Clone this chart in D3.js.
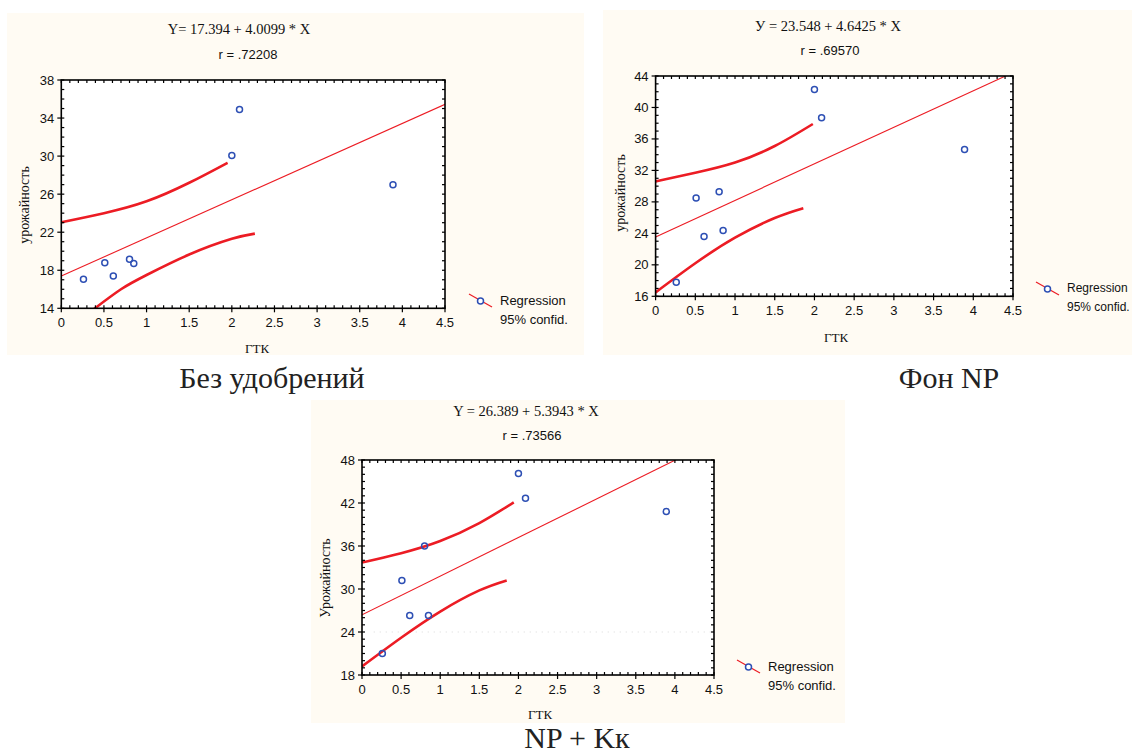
<!DOCTYPE html>
<html>
<head>
<meta charset="utf-8">
<script src="https://cdn.jsdelivr.net/npm/d3@7"></script>
<style>
  body { margin: 0; background: #fff; }
  text { fill: #111; }
</style>
</head>
<body>
<div id="chart"></div>
<script>
const ancho = 1132
const alto = 753

// ГТК (одинаковый для трёх графиков)
const gtk = [0.26, 0.51, 0.61, 0.8, 0.85, 2.0, 2.09, 3.89]

// урожайность по вариантам
const yieldBez = [17.05, 18.8, 17.4, 19.15, 18.7, 30.05, 34.9, 27.0]
const yieldNP = [17.8, 28.5, 23.6, 29.3, 24.35, 42.3, 38.7, 34.65]
const yieldNPK = [21.0, 31.2, 26.3, 36.0, 26.3, 46.1, 42.65, 40.8]

// коэффициенты регрессии  [a, b]
const regBez = [17.394, 4.0099]
const regNP = [23.548, 4.6425]
const regNPK = [26.389, 5.3943]

// 95% доверительные полосы
const bandBezUpX = [0, 0.5, 1.0, 1.5, 1.95]
const bandBezUpY = [23.05, 24.0, 25.25, 27.2, 29.3]
const bandBezLoX = [0.38, 0.7, 1.0, 1.5, 2.0, 2.27]
const bandBezLoY = [13.9, 16.0, 17.5, 19.65, 21.3, 21.85]

const bandNPUpX = [0, 0.5, 1.0, 1.5, 1.98]
const bandNPUpY = [30.6, 31.7, 33.0, 35.1, 37.9]
const bandNPLoX = [0, 0.5, 1.0, 1.5, 1.86]
const bandNPLoY = [16.5, 20.2, 23.45, 25.95, 27.2]

const bandNPKUpX = [0, 0.5, 1.0, 1.5, 1.94]
const bandNPKUpY = [33.7, 35.0, 36.7, 39.2, 42.1]
const bandNPKLoX = [0, 0.5, 1.0, 1.5, 1.85]
const bandNPKLoY = [19.2, 23.2, 26.85, 29.8, 31.2]

const xTicks = [0, 0.5, 1, 1.5, 2, 2.5, 3, 3.5, 4, 4.5]

const rojo = "#ec1c24"
const azul = "#2d4fb4"
const crema = "#fffbf3"
const serif = "'Liberation Serif', 'Times New Roman', serif"
const sans = "'Liberation Sans', Arial, sans-serif"

const svg = d3.select("#chart").append("svg")
    .attr("width", ancho)
    .attr("height", alto)

const paneles = [
  {
    id: "p1", bg: [7, 13, 584, 355],
    plot: {l: 61.3, r: 445, t: 80, b: 308.3},
    yDom: [14, 38], yStep: 4,
    yv: yieldBez, reg: regBez,
    up: [bandBezUpX, bandBezUpY], lo: [bandBezLoX, bandBezLoY],
    titulo: "Y= 17.394 + 4.0099 * X", tit: [239, 29], rtxt: "r = .72208", rpos: [248, 54],
    ylab: "урожайность", ylp: [24, 205], xlp: [257, 348],
    leg: [469, 301], legFs: 13, caption: "Без удобрений", cap: [272, 388]
  },
  {
    id: "p2", bg: [603, 10, 1132, 355],
    plot: {l: 655.6, r: 1013, t: 76, b: 296.3},
    yDom: [16, 44], yStep: 4,
    yv: yieldNP, reg: regNP,
    up: [bandNPUpX, bandNPUpY], lo: [bandNPLoX, bandNPLoY],
    titulo: "У = 23.548 + 4.6425 * X", tit: [828, 26], rtxt: "r = .69570", rpos: [830, 50],
    ylab: "урожайность", ylp: [620, 193], xlp: [836, 337],
    leg: [1036, 289], legFs: 12, caption: "Фон NP", cap: [949, 388]
  },
  {
    id: "p3", bg: [311, 400, 845, 723],
    plot: {l: 362, r: 714, t: 460, b: 675},
    yDom: [18, 48], yStep: 6,
    yv: yieldNPK, reg: regNPK,
    up: [bandNPKUpX, bandNPKUpY], lo: [bandNPKLoX, bandNPKLoY],
    guia: 24,
    titulo: "Y = 26.389 + 5.3943 * X", tit: [526, 411], rtxt: "r = .73566", rpos: [532, 435],
    ylab: "Урожайность", ylp: [325, 578], xlp: [540, 714],
    leg: [737, 667], legFs: 13, caption: "NP + Kк", cap: [577, 748]
  }
]

paneles.forEach(p => {
  const g = svg.append("g").attr("id", p.id)
  const bg = p.bg
  g.append("rect")
      .attr("x", bg[0]).attr("y", bg[1])
      .attr("width", bg[2] - bg[0]).attr("height", bg[3] - bg[1])
      .attr("fill", crema)

  const x = d3.scaleLinear().domain([0, 4.5]).range([p.plot.l, p.plot.r])
  const y = d3.scaleLinear().domain(p.yDom).range([p.plot.b, p.plot.t])

  g.append("rect")
      .attr("x", p.plot.l).attr("y", p.plot.t)
      .attr("width", p.plot.r - p.plot.l).attr("height", p.plot.b - p.plot.t)
      .attr("fill", "#fff")

  g.append("clipPath").attr("id", "clip-" + p.id)
    .append("rect")
      .attr("x", p.plot.l).attr("y", p.plot.t)
      .attr("width", p.plot.r - p.plot.l).attr("height", p.plot.b - p.plot.t)

  const interior = g.append("g").attr("clip-path", `url(#clip-${p.id})`)

  // línea punteada tenue (solo en el tercer gráfico)
  if (p.guia !== undefined) {
    interior.append("line")
        .attr("x1", x(0.15)).attr("x2", x(4.5))
        .attr("y1", y(p.guia)).attr("y2", y(p.guia))
        .attr("stroke", "#d8d8d8").attr("stroke-width", 1)
        .attr("stroke-dasharray", "1,5")
  }

  // regresión
  interior.append("line")
      .attr("x1", x(0)).attr("y1", y(p.reg[0]))
      .attr("x2", x(4.5)).attr("y2", y(p.reg[0] + p.reg[1] * 4.5))
      .attr("stroke", rojo).attr("stroke-width", 1.1)

  const curva = d3.line()
      .x(d => x(d[0]))
      .y(d => y(d[1]))
      .curve(d3.curveNatural)

  ;[p.up, p.lo].forEach(b => {
    interior.append("path")
        .attr("d", curva(d3.zip(b[0], b[1])))
        .attr("fill", "none")
        .attr("stroke", rojo)
        .attr("stroke-width", 2.6)
        .attr("stroke-linecap", "butt")
  })

  // puntos
  g.append("g").selectAll("circle")
    .data(d3.zip(gtk, p.yv))
    .join("circle")
      .attr("cx", d => x(d[0]))
      .attr("cy", d => y(d[1]))
      .attr("r", 3)
      .attr("fill", "none")
      .attr("stroke", azul)
      .attr("stroke-width", 1.5)

  // ticks del marco
  const ticks = g.append("g").attr("stroke", "#000").attr("stroke-width", 1.2)
  const xMinor = d3.range(0, 45.01, 1).map(v => v / 10)
  xMinor.forEach(v => {
    const mayor = Math.abs(v * 2 - Math.round(v * 2)) < 1e-6
    ticks.append("line").attr("x1", x(v)).attr("x2", x(v))
        .attr("y1", p.plot.b + (mayor ? 4 : 0)).attr("y2", p.plot.b - 3)
    ticks.append("line").attr("x1", x(v)).attr("x2", x(v))
        .attr("y1", p.plot.t).attr("y2", p.plot.t + 3)
  })
  d3.range(p.yDom[0], p.yDom[1] + 0.01, 1).forEach(v => {
    const mayor = (v - p.yDom[0]) % p.yStep === 0
    ticks.append("line").attr("y1", y(v)).attr("y2", y(v))
        .attr("x1", p.plot.l - (mayor ? 4 : 0)).attr("x2", p.plot.l + 3)
    ticks.append("line").attr("y1", y(v)).attr("y2", y(v))
        .attr("x1", p.plot.r).attr("x2", p.plot.r - 3)
  })

  g.append("rect")
      .attr("x", p.plot.l).attr("y", p.plot.t)
      .attr("width", p.plot.r - p.plot.l).attr("height", p.plot.b - p.plot.t)
      .attr("fill", "none").attr("stroke", "#000").attr("stroke-width", 1.6)

  // etiquetas de los ejes
  g.append("g").selectAll("text")
    .data(xTicks)
    .join("text")
      .attr("x", d => x(d))
      .attr("y", p.plot.b + 14)
      .attr("text-anchor", "middle")
      .attr("dominant-baseline", "central")
      .style("font-family", sans).style("font-size", "13px")
      .text(d => d)

  g.append("g").selectAll("text")
    .data(d3.range(p.yDom[0], p.yDom[1] + 0.01, p.yStep))
    .join("text")
      .attr("x", p.plot.l - 7)
      .attr("y", d => y(d))
      .attr("text-anchor", "end")
      .attr("dominant-baseline", "central")
      .style("font-family", sans).style("font-size", "13px")
      .text(d => d)

  g.append("text")
      .attr("transform", `translate(${p.ylp[0]},${p.ylp[1]}) rotate(-90)`)
      .attr("text-anchor", "middle").attr("dominant-baseline", "central")
      .style("font-family", serif).style("font-size", "14px")
      .text(p.ylab)

  g.append("text")
      .attr("x", p.xlp[0]).attr("y", p.xlp[1])
      .attr("text-anchor", "middle").attr("dominant-baseline", "central")
      .style("font-family", serif).style("font-size", "13px")
      .text("ГТК")

  // títulos
  g.append("text")
      .attr("x", p.tit[0]).attr("y", p.tit[1])
      .attr("text-anchor", "middle").attr("dominant-baseline", "central")
      .style("font-family", serif).style("font-size", "14.5px")
      .text(p.titulo)

  g.append("text")
      .attr("x", p.rpos[0]).attr("y", p.rpos[1])
      .attr("text-anchor", "middle").attr("dominant-baseline", "central")
      .style("font-family", sans).style("font-size", "13px")
      .text(p.rtxt)

  // leyenda
  const lx = p.leg[0], ly = p.leg[1]
  g.append("line")
      .attr("x1", lx).attr("y1", ly - 7).attr("x2", lx + 23).attr("y2", ly + 6)
      .attr("stroke", rojo).attr("stroke-width", 1.2)
  g.append("circle")
      .attr("cx", lx + 11.5).attr("cy", ly)
      .attr("r", 3).attr("fill", "#fff")
      .attr("stroke", azul).attr("stroke-width", 1.5)
  g.append("text")
      .attr("x", lx + 31).attr("y", ly - 1)
      .attr("dominant-baseline", "central")
      .style("font-family", sans).style("font-size", p.legFs + "px")
      .text("Regression")
  g.append("text")
      .attr("x", lx + 31).attr("y", ly + 18)
      .attr("dominant-baseline", "central")
      .style("font-family", sans).style("font-size", p.legFs + "px")
      .text("95% confid.")

  // pie
  svg.append("text")
      .attr("x", p.cap[0]).attr("y", p.cap[1])
      .attr("text-anchor", "middle")
      .style("font-family", serif).style("font-size", "30px")
      .style("fill", "#222")
      .text(p.caption)
})
</script>
</body>
</html>
